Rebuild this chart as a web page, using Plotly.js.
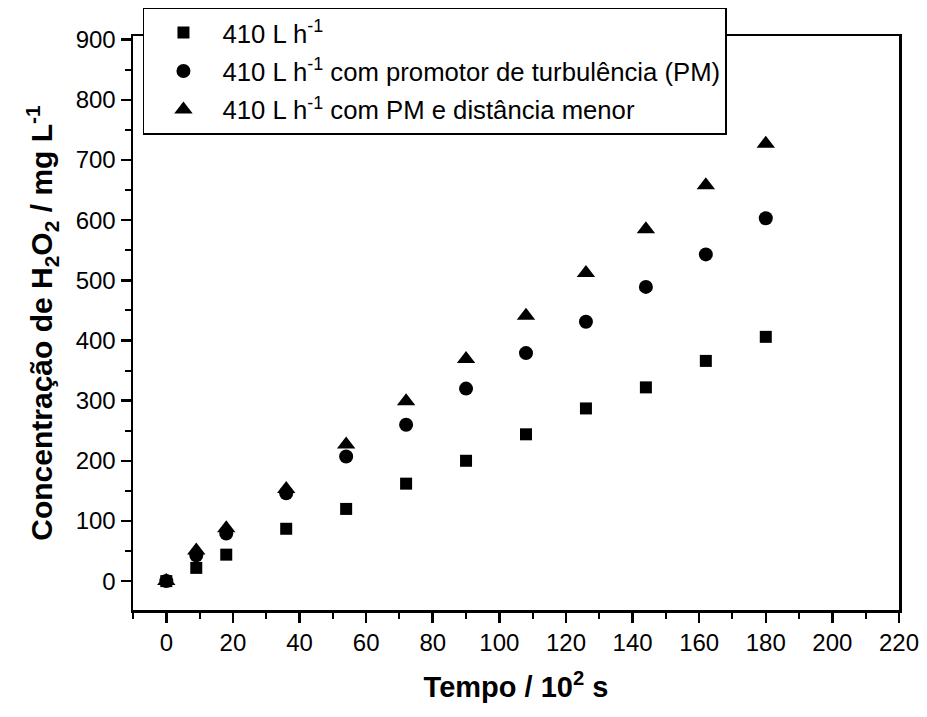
<!DOCTYPE html>
<html>
<head>
<meta charset="utf-8">
<script src="https://cdn.plot.ly/plotly-3.0.1.min.js"></script>
<style>html,body{margin:0;padding:0;background:#fff;}#chart{width:927px;height:717px;}</style>
</head>
<body>
<div id="chart"></div>
<script>
var tempo = [0, 9, 18, 36, 54, 72, 90, 108, 126, 144, 162, 180];
var conc410 = [0, 22, 44, 87, 120, 162, 200, 244, 287, 322, 366, 406];
var concPM = [0, 43, 79, 146, 207, 260, 320, 379, 431, 489, 543, 603];
var concPMdist = [0, 51, 88, 153, 227, 299, 369, 441, 512, 585, 658, 727];
var seriesNames = [
  "410 L h<sup>-1</sup>",
  "410 L h<sup>-1</sup> com promotor de turbulência (PM)",
  "410 L h<sup>-1</sup> com PM e distância menor"
];
var xTickVals = [0, 20, 40, 60, 80, 100, 120, 140, 160, 180, 200, 220];
var yTickVals = [0, 100, 200, 300, 400, 500, 600, 700, 800, 900];

var font = "Arial, 'Liberation Sans', sans-serif";
function tr(y, name, sym, size, g) {
  return {x: tempo, y: y, name: name, type: "scatter", mode: "markers", legendgroup: g,
    marker: {symbol: sym, size: size, color: "#000", line: {width: 0}}};
}
var data = [
  tr(conc410, seriesNames[0], "square", 12, "a"),
  tr(concPM, seriesNames[1], "circle", 14, "b"),
  tr(concPMdist, seriesNames[2], "triangle-up", 16, "c")
];
var axisCommon = {
  showline: true, linecolor: "#000", linewidth: 2.5, mirror: true,
  ticks: "outside", ticklen: 10, tickwidth: 2.5, tickcolor: "#000",
  showgrid: false, zeroline: false,
  tickfont: {family: font, size: 24, color: "#000"}
};
var layout = {
  width: 927, height: 717,
  margin: {l: 133, r: 28, t: 36, b: 107, autoexpand: false},
  paper_bgcolor: "#fff", plot_bgcolor: "#fff",
  showlegend: true,
  xaxis: Object.assign({}, axisCommon, {
    range: [-10, 220], tickmode: "array", tickvals: xTickVals,
    minor: {dtick: 10, ticklen: 6, tickwidth: 2, tickcolor: "#000", ticks: "outside"},
    title: {text: "<b>Tempo / 10<sup>2</sup> s</b>", font: {family: font, size: 29, color: "#000"}, standoff: 22}
  }),
  yaxis: Object.assign({}, axisCommon, {
    range: [-48, 906], tickmode: "array", tickvals: yTickVals,
    minor: {dtick: 50, ticklen: 6, tickwidth: 2, tickcolor: "#000", ticks: "outside"},
    title: {text: "<b>Concentração de H<sub>2</sub>O<sub>2</sub> / mg L<sup>-1</sup></b>", font: {family: font, size: 30, color: "#000"}, standoff: 14}
  }),
  legend: {
    x: 0.013, y: 1.049, xanchor: "left", yanchor: "top",
    bgcolor: "#fff", bordercolor: "#000", borderwidth: 1.5,
    font: {family: font, size: 25.7, color: "#000"},
    tracegroupgap: 2, itemwidth: 68
  }
};
Plotly.newPlot("chart", data, layout, {displayModeBar: false, staticPlot: true});
</script>
</body>
</html>
